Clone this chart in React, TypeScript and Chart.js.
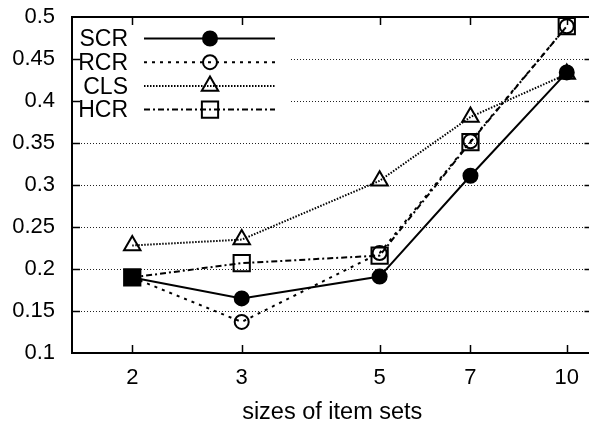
import React, { useEffect, useRef } from "react";
import { Chart, registerables } from "chart.js";

Chart.register(...registerables);

const xValues = [2, 3, 5, 7, 10];
const xTicks = [2, 3, 5, 7, 10];
const yTicks = [0.1, 0.15, 0.2, 0.25, 0.3, 0.35, 0.4, 0.45, 0.5];

const scrValues = [0.19, 0.165, 0.191, 0.311, 0.434];
const rcrValues = [0.19, 0.137, 0.219, 0.352, 0.489];
const clsValues = [0.228, 0.235, 0.305, 0.381, 0.432];
const hcrValues = [0.19, 0.207, 0.216, 0.351, 0.489];

const seriesLabels = ["SCR", "RCR", "CLS", "HCR"];
const xTitle = "sizes of item sets";

const FONT = '"Liberation Sans", Arial, Helvetica, sans-serif';
const FS = 22;
const CW = 606;

function drawMarker(ctx: CanvasRenderingContext2D, style: string, x: number, y: number, r: number, fill: boolean) {
  ctx.beginPath();
  if (style === "circle") {
    ctx.arc(x, y, r, 0, Math.PI * 2);
  } else if (style === "rect") {
    const s = Math.SQRT1_2 * r;
    ctx.rect(x - s, y - s, 2 * s, 2 * s);
  } else if (style === "triangle") {
    let rad = 0;
    ctx.moveTo(x + Math.sin(rad) * r, y - Math.cos(rad) * r);
    rad += (2 * Math.PI) / 3;
    ctx.lineTo(x + Math.sin(rad) * r, y - Math.cos(rad) * r);
    rad += (2 * Math.PI) / 3;
    ctx.lineTo(x + Math.sin(rad) * r, y - Math.cos(rad) * r);
  }
  ctx.closePath();
  if (fill) ctx.fill();
  ctx.stroke();
}

const gnuPlugin = {
  id: "gnuFrame",
  beforeDatasetsDraw(chart: any) {
    const { ctx, chartArea: a, scales } = chart;
    const ys = scales.y;
    ctx.save();
    ctx.strokeStyle = "#222";
    ctx.lineWidth = 1;
    ctx.setLineDash([1, 2]);
    for (const v of yTicks) {
      const py = Math.round(ys.getPixelForValue(v)) + 0.5;
      ctx.beginPath();
      ctx.moveTo(a.left, py);
      ctx.lineTo(a.right, py);
      ctx.stroke();
    }
    ctx.restore();
  },
  afterDatasetsDraw(chart: any) {
    const { ctx, chartArea: a, scales } = chart;
    const xs = scales.x;
    const ys = scales.y;
    ctx.save();
    // opaque key background
    ctx.fillStyle = "#fff";
    ctx.fillRect(a.left + 1, a.top + 1, 290 - a.left, 122 - a.top);
    const legTop = 38.5;
    const legStep = 23.7;
    chart.data.datasets.forEach((ds: any, i: number) => {
      const ly = legTop + i * legStep;
      ctx.fillStyle = "#000";
      ctx.font = `23px ${FONT}`;
      ctx.textAlign = "right";
      ctx.textBaseline = "middle";
      ctx.fillText(ds.label, 128, ly + 1.5);
      ctx.strokeStyle = "#000";
      ctx.lineWidth = ds.borderWidth;
      ctx.setLineDash(ds.borderDash || []);
      ctx.beginPath();
      ctx.moveTo(144, ly);
      ctx.lineTo(275, ly);
      ctx.stroke();
      ctx.setLineDash([]);
      ctx.lineWidth = ds.pointBorderWidth;
      ctx.fillStyle = "#000";
      drawMarker(ctx, ds.pointStyle, 210, ly, ds.pointRadius, ds.legendFill);
    });
    // frame
    ctx.setLineDash([]);
    ctx.strokeStyle = "#000";
    ctx.lineWidth = 2;
    ctx.strokeRect(a.left, a.top, a.right - a.left, a.bottom - a.top);
    // inward ticks
    ctx.lineWidth = 1.5;
    const tl = 8;
    for (const v of xTicks) {
      const px = Math.round(xs.getPixelForValue(v)) + 0.5;
      ctx.beginPath();
      ctx.moveTo(px, a.bottom);
      ctx.lineTo(px, a.bottom - tl);
      ctx.moveTo(px, a.top);
      ctx.lineTo(px, a.top + tl);
      ctx.stroke();
    }
    for (const v of yTicks.slice(1, -1)) {
      const py = Math.round(ys.getPixelForValue(v)) + 0.5;
      ctx.beginPath();
      ctx.moveTo(a.left, py);
      ctx.lineTo(a.left + tl, py);
      ctx.moveTo(a.right, py);
      ctx.lineTo(a.right - tl, py);
      ctx.stroke();
    }
    ctx.restore();
  },
};

function pts(vals: number[]) {
  return xValues.map((x, i) => ({ x, y: vals[i] }));
}

export default function App() {
  const ref = useRef<HTMLCanvasElement | null>(null);
  useEffect(() => {
    if (!ref.current) return;
    const common = {
      borderColor: "#000",
      pointBorderColor: "#000",
      borderWidth: 2,
      pointBorderWidth: 2,
      tension: 0,
      clip: false as any,
    };
    const chart = new Chart(ref.current, {
      type: "line",
      data: {
        datasets: [
          { ...common, label: seriesLabels[0], data: pts(scrValues), pointStyle: "circle", pointRadius: 7, pointBackgroundColor: "#000", backgroundColor: "#000", legendFill: true } as any,
          { ...common, label: seriesLabels[1], data: pts(rcrValues), borderDash: [3, 5], pointStyle: "circle", pointRadius: 7, pointBackgroundColor: "rgba(0,0,0,0)", legendFill: false } as any,
          { ...common, label: seriesLabels[2], data: pts(clsValues), borderDash: [1.5, 1.5], pointStyle: "triangle", pointRadius: 9.5, pointBackgroundColor: "rgba(0,0,0,0)", legendFill: false } as any,
          { ...common, label: seriesLabels[3], data: pts(hcrValues), borderDash: [6, 3, 2, 3], pointStyle: "rect", pointRadius: 11.5, pointBackgroundColor: ["#000", "rgba(0,0,0,0)", "rgba(0,0,0,0)", "rgba(0,0,0,0)", "rgba(0,0,0,0)"], legendFill: false } as any,
        ],
      },
      options: {
        responsive: false,
        animation: false,
        devicePixelRatio: 1,
        layout: { padding: { left: 0, right: 0, top: 17, bottom: 0 } },
        plugins: { legend: { display: false }, tooltip: { enabled: false } },
        events: [],
        scales: {
          x: {
            type: "logarithmic",
            min: 1.6,
            max: 11,
            afterBuildTicks: (s: any) => { s.ticks = xTicks.map((v) => ({ value: v })); },
            afterFit: (s: any) => { s.height = 72; s.paddingLeft = 0; s.paddingRight = 0; },
            ticks: { autoSkip: false, maxRotation: 0, padding: 12, color: "#000", font: { family: FONT, size: FS }, callback: (v: any) => String(v) },
            grid: { display: false, drawTicks: false },
            border: { display: false },
            title: { display: true, text: xTitle, color: "#000", font: { family: FONT, size: 23.5, lineHeight: 1 }, padding: { top: 0, bottom: 1 } },
          },
          y: {
            type: "linear",
            min: 0.1,
            max: 0.5,
            afterBuildTicks: (s: any) => { s.ticks = yTicks.map((v) => ({ value: v })); },
            afterFit: (s: any) => { s.width = 72; s.paddingTop = 0; s.paddingBottom = 0; },
            ticks: { padding: 17, color: "#000", font: { family: FONT, size: FS }, callback: (v: any) => String(Math.round(Number(v) * 100) / 100) },
            grid: { display: false, drawTicks: false },
            border: { display: false },
          },
        },
      } as any,
      plugins: [gnuPlugin],
    });
    return () => chart.destroy();
  }, []);
  return (
    <div style={{ position: "fixed", left: 0, top: 0, width: CW, height: 425, background: "#fff" }}>
      <canvas ref={ref} width={CW} height={425} style={{ width: CW, height: 425, display: "block" }} />
    </div>
  );
}
